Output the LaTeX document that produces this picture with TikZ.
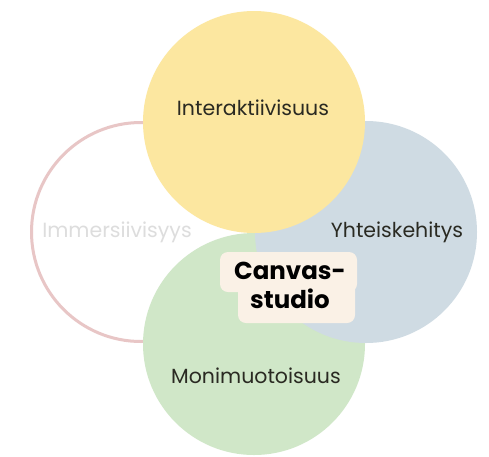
\documentclass[tikz,border=0pt]{standalone}
\usepackage{fontspec}
\setmainfont{Poppins}
\newfontfamily\popbold{Poppins}[UprightFont={* Bold}]
\definecolor{cyellow}{HTML}{FCE7A0}
\definecolor{cblue}{HTML}{CFDBE3}
\definecolor{cgreen}{HTML}{D0E7C8}
\definecolor{cpink}{HTML}{E8C6C6}
\definecolor{ccream}{HTML}{FAF1E6}
\definecolor{ctext}{HTML}{2A2A22}
\definecolor{cfaint}{HTML}{DDDDDD}
\begin{document}
\begin{tikzpicture}[x=1pt,y=-1pt,
  blob/.style={circle,minimum size=222pt,inner sep=0pt,draw=none},
  lbl/.style={font=\fontsize{20.5}{24}\selectfont,text=ctext,inner sep=0pt}]
\useasboundingbox (0,0) rectangle (489,456);
\fill[white] (0,0) rectangle (489,456);
% circles
\node[blob,draw=cpink,line width=3pt,fill=white,minimum size=219pt] (imm) at (141,232) {};
\node[blob,fill=cgreen] (mon) at (254,344) {};
\node[blob,fill=cblue] (yht) at (366,232) {};
\node[blob,fill=cyellow] (int) at (254,122) {};
% labels
\node[lbl] (tint) at (253,108) {Interaktiivisuus};
\node[lbl] (tyht) at (397,232) {Yhteiskehitys};
\node[lbl] (tmon) at (256,376) {Monimuotoisuus};
\node[lbl,text=cfaint] (timm) at (117,232) {Immersiivisyys};
% center box
\fill[ccream,rounded corners=8pt] (220,252) rectangle (357,292);
\fill[ccream,rounded corners=8pt] (238,270) rectangle (355,323);
\node[font=\popbold\fontsize{24.5}{29}\selectfont,align=center,inner sep=0pt] (cs) at (290,285) {Canvas-\\studio};
\end{tikzpicture}
\end{document}
